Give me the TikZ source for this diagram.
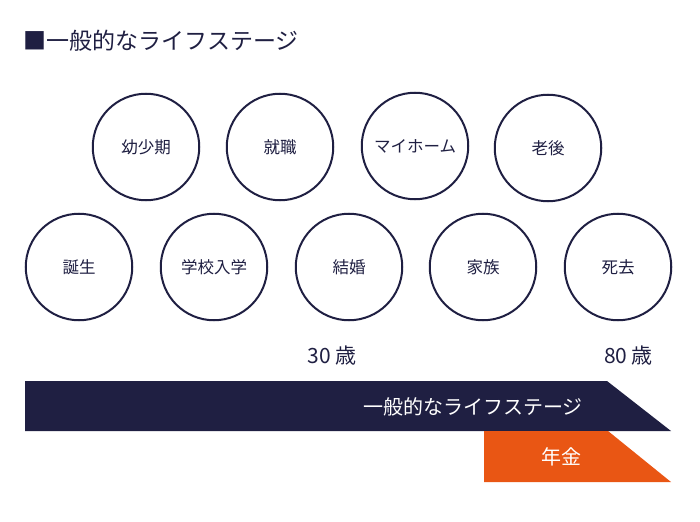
\documentclass[tikz,border=0pt]{standalone}
\usepackage{fontspec}
\setmainfont{Noto Sans CJK JP}
\definecolor{navy}{RGB}{31,31,66}
\definecolor{orng}{RGB}{233,86,20}
\begin{document}
\begin{tikzpicture}[x=1pt,y=-1pt,
  stage/.style={circle,draw=navy,line width=2pt,minimum size=106.5pt,inner sep=0pt,text=navy,font=\fontsize{16.5}{19}\selectfont},
  agelbl/.style={text=navy,font=\fontsize{21}{25}\selectfont,inner sep=0pt},
  barlbl/.style={text=white,font=\fontsize{20}{24}\selectfont,inner sep=0pt,anchor=east}]
\useasboundingbox (0,0) rectangle (700,521);
\node[anchor=west,inner sep=0pt,text=navy,font=\fontsize{23}{27}\selectfont] (title) at (23,41) {■一般的なライフステージ};
% top row
\node[stage] (c1) at (146,147) {幼少期};
\node[stage] (c2) at (280,147) {就職};
\node[stage] (c3) at (415,146) {マイホーム};
\node[stage] (c4) at (548,148) {老後};
% bottom row
\node[stage] (d1) at (79,267) {誕生};
\node[stage] (d2) at (214,267) {学校入学};
\node[stage] (d3) at (349,267) {結婚};
\node[stage] (d4) at (483,267) {家族};
\node[stage] (d5) at (618,267) {死去};
% ages
\node[agelbl] (a30) at (332.5,356) {30 歳};
\node[agelbl] (a80) at (628.5,356) {80 歳};
% bars
\fill[navy] (25,381) -- (607,381) -- (671,431) -- (25,431) -- cycle;
\fill[orng] (484,431) -- (608,431) -- (671,482) -- (484,482) -- cycle;
\node[barlbl] (b1) at (583,407) {一般的なライフステージ};
\node[barlbl] (b2) at (582,457) {年金};
\end{tikzpicture}
\end{document}
